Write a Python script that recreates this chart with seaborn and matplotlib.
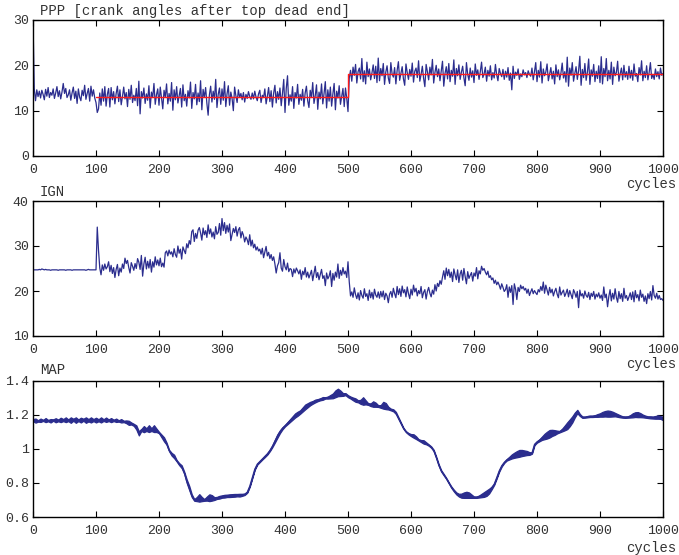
import numpy as np
import matplotlib
matplotlib.use("Agg")
import matplotlib.pyplot as plt
import seaborn as sns

# ---------------- data ----------------
TITLES = ["PPP [crank angles after top dead end]", "IGN", "MAP"]
X_LABEL = "cycles"
X_TICKS = [0, 100, 200, 300, 400, 500, 600, 700, 800, 900, 1000]
PPP_TICKS = [0, 10, 20, 30]
IGN_TICKS = [10, 20, 30, 40]
MAP_TICKS = [0.6, 0.8, 1.0, 1.2, 1.4]
MAP_TICK_LABELS = ["0.6", "0.8", "1", "1.2", "1.4"]

PPP_STEP = 2   # one value every 2 cycles
PPP = [
    30.0, 14.8, 12.2, 14.6, 13.1,  14.3, 12.8, 14.5, 13.6, 12.4,
    14.7, 13.2, 15.1, 12.9, 14.0,  13.4, 14.8, 12.7, 13.9, 15.3,
    13.1, 14.4, 12.6, 14.1, 16.0,  13.8, 14.9, 12.9, 13.5, 14.6,
    12.3, 13.9, 15.2, 12.7, 14.3,  11.6, 14.8, 13.0, 12.2, 14.5,
    13.3, 15.6, 12.5, 13.8, 14.9,  12.1, 15.4, 13.2, 14.6, 12.8,
    11.8, 9.6, 10.4, 13.9, 11.2,   14.8, 12.1, 15.3, 11.0, 13.6,
    14.9, 10.8, 15.1, 12.4, 14.2,  11.5, 13.8, 15.4, 12.0, 14.6,
    11.3, 13.1, 15.2, 12.6, 14.0,  10.9, 14.7, 12.5, 15.6, 11.8,
    13.4, 12.2, 14.9, 11.1, 16.5,  9.3, 14.2, 12.8, 15.0, 11.6,
    13.7, 12.3, 15.5, 10.6, 14.1,  12.9, 16.0, 11.4, 13.5, 14.8,
    11.2, 15.2, 12.7, 10.4, 14.5,  13.0, 15.9, 11.5, 13.8, 12.1,
    16.2, 10.1, 14.6, 12.4, 15.3,  11.7, 13.3, 14.9, 10.8, 15.7,
    12.2, 13.6, 11.0, 14.4, 12.8,  16.3, 10.5, 14.0, 12.6, 15.8,
    11.3, 13.9, 12.0, 16.6, 10.2,  14.7, 12.9, 15.1, 11.6, 9.0,
    13.5, 15.4, 11.9, 14.3, 12.5,  16.9, 10.7, 13.6, 15.0, 11.4,
    14.8, 12.3, 16.4, 10.9, 13.7,  15.5, 11.2, 14.1, 12.7, 10.0,
    15.2, 13.3, 11.8, 14.6, 12.9,  13.8, 12.4, 14.0, 11.9, 13.6,
    12.7, 14.2, 13.1, 12.5, 13.9,  12.6, 14.3, 13.0, 12.2, 13.7,
    14.5, 11.8, 13.4, 12.9, 14.8,  11.5, 13.2, 15.1, 12.0, 14.4,
    10.8, 13.9, 15.6, 11.7, 14.2,  12.5, 15.0, 11.1, 13.8, 16.9,
    9.6, 14.9, 17.7, 11.2, 13.5,   12.1, 15.3, 10.5, 14.0, 12.8,
    15.8, 11.4, 13.6, 12.3, 14.7,  11.0, 13.9, 15.4, 12.2, 10.7,
    14.5, 12.9, 16.2, 11.6, 13.3,  15.7, 10.3, 14.1, 12.6, 15.9,
    11.5, 13.8, 16.4, 10.6, 14.6,  12.1, 15.2, 11.0, 13.7, 16.0,
    10.2, 14.3, 12.8, 15.5, 11.4,  13.2, 14.9, 10.9, 15.0, 12.7,
    9.8, 17.2, 18.9, 16.5, 19.6,   17.8, 20.2, 16.1, 18.6, 19.4,
    17.0, 21.5, 16.4, 18.8, 15.9,  20.7, 17.5, 19.2, 16.8, 18.3,
    20.1, 17.1, 19.8, 16.2, 21.6,  16.6, 19.3, 17.7, 20.4, 15.8,
    18.5, 19.9, 17.2, 16.0, 20.6,  18.1, 17.4, 19.5, 15.9, 18.9,
    20.8, 16.7, 18.2, 19.7, 17.0,  15.6, 20.3, 18.4, 16.9, 19.1,
    17.6, 20.5, 16.3, 18.7, 19.4,  17.3, 21.0, 16.5, 18.0, 19.8,
    17.1, 15.3, 20.2, 18.6, 16.8,  19.6, 17.9, 21.3, 16.1, 18.4,
    20.0, 17.5, 19.2, 16.6, 18.8,  20.9, 15.4, 18.2, 19.7, 17.0,
    20.4, 16.4, 18.9, 17.6, 21.2,  15.8, 19.3, 17.7, 20.1, 16.9,
    18.5, 19.8, 17.2, 15.5, 20.6,  18.0, 16.7, 19.4, 17.4, 18.8,
    16.2, 20.3, 17.8, 19.0, 16.9,  18.6, 20.7, 17.3, 18.1, 19.6,
    16.5, 18.9, 17.6, 19.9, 16.8,  18.4, 17.2, 20.2, 17.9, 16.6,
    19.3, 18.2, 17.5, 19.1, 16.9,  18.7, 17.4, 19.5, 16.7, 18.3,
    14.6, 19.8, 17.1, 18.5, 17.8,  19.2, 16.9, 18.1, 17.5, 19.0,
    17.9, 18.4, 17.3, 18.8, 18.0,  17.6, 19.4, 16.8, 18.6, 20.6,
    16.4, 18.9, 17.4, 20.8, 16.1,  19.2, 17.7, 18.5, 20.3, 16.6,
    18.0, 19.5, 17.0, 18.7, 15.9,  20.1, 17.5, 19.0, 16.8, 18.3,
    20.5, 17.2, 18.6, 16.3, 21.8,  15.4, 19.4, 17.8, 20.6, 16.5,
    18.2, 19.7, 16.9, 18.8, 22.0,  15.6, 19.1, 17.3, 20.4, 16.7,
    18.5, 21.4, 15.8, 19.0, 17.6,  20.2, 16.4, 18.7, 17.1, 19.9,
    16.2, 21.9, 15.9, 19.3, 17.5,  21.5, 16.6, 18.9, 17.0, 20.7,
    15.8, 19.6, 17.7, 18.4, 20.9,  16.5, 18.1, 19.4, 16.8, 20.0,
    17.4, 18.6, 16.9, 19.8, 17.2,  18.9, 16.7, 20.3, 17.6, 18.2,
    16.4, 19.5, 17.9, 21.0, 16.6,  18.7, 17.3, 19.9, 16.8, 18.4,
    20.6, 17.1, 18.0, 16.9, 19.2,  17.5, 18.6, 17.0, 19.4, 17.8,
    18.2,
]

PPP_REF_CYCLES = [100, 500, 1000]
PPP_REF = [13.0, 18.0, 18.0]

IGN_STEP = 2
IGN = [
    24.7, 24.7, 24.7, 24.7, 24.7,  24.8, 24.7, 24.9, 24.8, 24.7,
    24.8, 24.7, 24.7, 24.7, 24.6,  24.7, 24.7, 24.7, 24.7, 24.7,
    24.6, 24.7, 24.7, 24.7, 24.7,  24.7, 24.6, 24.7, 24.7, 24.7,
    24.7, 24.6, 24.7, 24.7, 24.7,  24.7, 24.7, 24.7, 24.7, 24.7,
    24.7, 24.7, 24.6, 24.7, 24.8,  24.7, 24.7, 24.7, 24.7, 24.7,
    24.7, 34.2, 29.0, 25.1, 23.6,  25.8, 24.6, 26.0, 24.9, 25.4,
    26.5, 24.3, 25.7, 23.9, 25.2,  23.0, 24.8, 25.9, 23.4, 25.1,
    24.2, 26.0, 25.0, 27.3, 26.1,  26.8, 25.2, 24.0, 26.3, 25.5,
    24.6, 26.1, 25.0, 27.2, 26.4,  24.8, 27.9, 23.3, 26.0, 27.5,
    24.9, 26.6, 25.1, 27.0, 24.2,  26.5, 25.3, 27.6, 25.8, 26.9,
    25.6, 27.3, 25.4, 26.2, 25.3,  28.5, 28.9, 27.8, 29.1, 28.2,
    28.7, 27.6, 29.4, 28.1, 27.5,  30.0, 28.4, 29.3, 27.1, 29.8,
    29.0, 28.3, 30.5, 29.6, 31.2,  30.4, 33.2, 33.6, 31.0, 32.8,
    31.7, 33.5, 34.1, 32.9, 31.3,  34.0, 32.5, 33.4, 31.9, 34.7,
    32.7, 33.8, 32.0, 33.1, 31.6,  34.3, 32.6, 33.0, 35.0, 32.4,
    36.1, 33.4, 35.2, 32.8, 34.6,  33.1, 34.9, 31.2, 32.6, 33.9,
    33.0, 34.3, 32.2, 33.6, 34.1,  31.8, 33.2, 32.4, 30.9, 32.0,
    31.4, 30.3, 32.5, 30.0, 31.3,  29.6, 30.4, 29.1, 29.8, 28.9,
    29.3, 28.2, 29.5, 27.4, 28.7,  29.9, 27.8, 28.6, 27.2, 28.1,
    26.8, 27.6, 26.0, 24.0, 25.6,  26.3, 28.5, 25.1, 24.4, 27.0,
    25.4, 24.7, 26.2, 24.3, 25.0,  24.8, 23.2, 24.9, 24.0, 25.1,
    24.5, 23.8, 24.7, 22.6, 24.4,  23.6, 25.2, 23.1, 24.2, 22.9,
    23.7, 24.6, 22.3, 23.9, 25.5,  23.0, 24.1, 22.5, 23.6, 24.8,
    22.8, 23.4, 21.2, 24.0, 22.7,  23.3, 24.5, 21.0, 23.9, 22.4,
    24.2, 23.1, 26.0, 22.8, 24.6,  23.5, 25.2, 23.8, 24.4, 23.0,
    26.5, 22.0, 18.9, 19.8, 18.6,  20.7, 19.2, 18.3, 19.6, 18.0,
    20.1, 19.0, 18.4, 20.5, 18.8,  19.4, 17.9, 20.2, 18.5, 19.7,
    18.2, 20.4, 19.1, 18.6, 19.8,  18.4, 19.9, 18.7, 20.0, 18.1,
    19.5, 18.9, 17.4, 19.3, 19.9,  18.6, 20.6, 19.4, 18.5, 21.0,
    19.2, 20.5, 18.8, 21.1, 19.6,  20.3, 18.7, 20.9, 19.4, 18.3,
    20.4, 19.1, 21.3, 19.8, 20.6,  18.9, 20.1, 19.4, 21.0, 18.5,
    19.7, 20.3, 18.2, 19.9, 20.8,  19.5, 18.7, 20.2, 19.3, 21.4,
    20.0, 21.7, 21.0, 22.3, 21.5,  23.1, 24.5, 22.6, 25.1, 23.4,
    24.8, 23.0, 24.2, 22.1, 24.9,  23.6, 22.5, 24.7, 21.9, 23.8,
    24.6, 22.4, 25.0, 23.2, 21.6,  24.3, 22.8, 23.5, 24.1, 22.2,
    24.0, 23.3, 25.2, 22.7, 24.5,  23.8, 25.5, 24.6, 25.0, 24.2,
    23.6, 24.4, 23.0, 23.4, 22.5,  22.9, 21.7, 22.4, 21.4, 22.0,
    21.3, 20.4, 21.6, 20.8, 19.9,  20.3, 21.4, 18.6, 20.9, 19.7,
    21.2, 17.0, 21.6, 20.4, 18.1,  20.8, 19.9, 21.3, 20.5, 21.0,
    20.2, 20.6, 19.5, 20.4, 19.0,  19.8, 20.5, 19.4, 20.1, 19.6,
    19.2, 20.3, 19.8, 21.0, 20.1,  22.0, 19.5, 21.3, 20.2, 19.1,
    20.8, 19.6, 20.4, 18.9, 19.9,  20.6, 19.3, 18.5, 20.9, 19.1,
    19.7, 20.2, 18.8, 19.5, 20.4,  18.7, 20.1, 19.2, 18.3, 20.3,
    19.6, 18.6, 19.9, 16.3, 20.2,  18.9, 19.4, 18.4, 20.0, 19.0,
    18.6, 19.7, 18.1, 19.5, 18.8,  19.9, 18.2, 19.3, 18.7, 19.6,
    18.4, 19.1, 17.9, 20.9, 18.5,  19.3, 16.5, 18.8, 20.3, 17.8,
    19.5, 18.2, 20.5, 18.6, 17.5,  19.9, 18.3, 19.4, 17.7, 20.6,
    18.4, 19.0, 17.9, 18.7, 19.6,  18.1, 19.8, 17.6, 20.1, 18.5,
    19.2, 17.8, 20.2, 18.6, 19.3,  17.7, 18.9, 17.2, 19.4, 18.3,
    19.9, 18.0, 21.2, 19.0, 18.4,  19.5, 18.2, 19.0, 18.1, 18.3,
    17.9,
]

MAP_STEP = 4   # one value every 4 cycles: band centre and half-width
MAP_MID = [
    1.168, 1.165, 1.163, 1.167, 1.166, 1.168, 1.165, 1.164, 1.168, 1.167,
    1.166, 1.169, 1.168, 1.170, 1.167, 1.168, 1.170, 1.168, 1.167, 1.168,
    1.170, 1.168, 1.167, 1.169, 1.168,
    1.168, 1.167, 1.169, 1.168, 1.170, 1.167, 1.168, 1.166, 1.167, 1.163,
    1.164, 1.160, 1.158, 1.152, 1.148, 1.140, 1.125, 1.090, 1.110, 1.115,
    1.112, 1.118, 1.112, 1.118, 1.108,
    1.095, 1.075, 1.055, 1.030, 0.990, 0.968, 0.955, 0.930, 0.910, 0.895,
    0.860, 0.810, 0.770, 0.725, 0.700, 0.705, 0.712, 0.705, 0.700, 0.708,
    0.713, 0.712, 0.708, 0.712, 0.716,
    0.720, 0.722, 0.724, 0.725, 0.726, 0.727, 0.728, 0.728, 0.730, 0.733,
    0.745, 0.780, 0.830, 0.880, 0.910, 0.925, 0.940, 0.955, 0.970, 0.990,
    1.015, 1.045, 1.075, 1.100, 1.120,
    1.135, 1.150, 1.165, 1.180, 1.195, 1.205, 1.215, 1.230, 1.245, 1.255,
    1.265, 1.272, 1.280, 1.285, 1.290, 1.295, 1.298, 1.300, 1.305, 1.310,
    1.322, 1.330, 1.325, 1.318, 1.320,
    1.308, 1.300, 1.292, 1.285, 1.278, 1.275, 1.280, 1.272, 1.262, 1.258,
    1.262, 1.258, 1.250, 1.248, 1.255, 1.250, 1.238, 1.230, 1.225, 1.210,
    1.180, 1.150, 1.120, 1.100, 1.088,
    1.080, 1.075, 1.065, 1.052, 1.045, 1.040, 1.032, 1.022, 1.010, 0.990,
    0.950, 0.905, 0.870, 0.848, 0.826, 0.800, 0.775, 0.755, 0.738, 0.728,
    0.725, 0.728, 0.730, 0.728, 0.722,
    0.716, 0.716, 0.720, 0.726, 0.732, 0.740, 0.752, 0.770, 0.792, 0.830,
    0.870, 0.900, 0.920, 0.935, 0.945, 0.955, 0.962, 0.968, 0.973, 0.975,
    0.975, 0.975, 0.972, 0.975, 1.025,
    1.040, 1.050, 1.062, 1.072, 1.080, 1.088, 1.093, 1.095, 1.098, 1.100,
    1.110, 1.122, 1.135, 1.152, 1.172, 1.198, 1.218, 1.198, 1.185, 1.185,
    1.188, 1.190, 1.190, 1.192, 1.195,
    1.198, 1.202, 1.205, 1.206, 1.205, 1.203, 1.200, 1.195, 1.190, 1.186,
    1.185, 1.186, 1.190, 1.196, 1.200, 1.200, 1.197, 1.192, 1.188, 1.185,
    1.184, 1.183, 1.184, 1.186, 1.183,
    1.178,
]
MAP_HALF = [
    0.006, 0.012, 0.004, 0.010, 0.003, 0.012, 0.004, 0.010, 0.004, 0.012,
    0.005, 0.013, 0.006, 0.014, 0.005, 0.016, 0.006, 0.016, 0.005, 0.014,
    0.006, 0.016, 0.007, 0.015, 0.006,
    0.014, 0.006, 0.015, 0.005, 0.013, 0.005, 0.012, 0.004, 0.010, 0.004,
    0.010, 0.004, 0.008, 0.012, 0.006, 0.006, 0.012, 0.012, 0.006, 0.018,
    0.008, 0.020, 0.008, 0.020, 0.010,
    0.004, 0.008, 0.012, 0.006, 0.004, 0.008, 0.010, 0.004, 0.006, 0.008,
    0.006, 0.010, 0.012, 0.008, 0.005, 0.012, 0.022, 0.012, 0.005, 0.012,
    0.020, 0.016, 0.008, 0.006, 0.008,
    0.007, 0.008, 0.007, 0.008, 0.008, 0.008, 0.007, 0.008, 0.006, 0.004,
    0.003, 0.003, 0.003, 0.003, 0.003, 0.003, 0.003, 0.004, 0.004, 0.004,
    0.005, 0.008, 0.010, 0.008, 0.006,
    0.004, 0.006, 0.008, 0.010, 0.012, 0.012, 0.010, 0.012, 0.014, 0.012,
    0.010, 0.008, 0.008, 0.006, 0.006, 0.008, 0.004, 0.006, 0.010, 0.014,
    0.020, 0.022, 0.016, 0.008, 0.006,
    0.006, 0.006, 0.008, 0.010, 0.006, 0.012, 0.022, 0.012, 0.005, 0.008,
    0.016, 0.012, 0.005, 0.008, 0.020, 0.018, 0.008, 0.005, 0.006, 0.006,
    0.005, 0.004, 0.003, 0.003, 0.004,
    0.006, 0.010, 0.008, 0.004, 0.006, 0.010, 0.006, 0.004, 0.004, 0.004,
    0.004, 0.004, 0.004, 0.004, 0.003, 0.003, 0.004, 0.005, 0.006, 0.008,
    0.012, 0.016, 0.018, 0.016, 0.010,
    0.004, 0.004, 0.006, 0.010, 0.014, 0.016, 0.014, 0.008, 0.004, 0.004,
    0.004, 0.004, 0.003, 0.004, 0.008, 0.012, 0.015, 0.018, 0.020, 0.018,
    0.015, 0.012, 0.008, 0.004, 0.004,
    0.004, 0.006, 0.010, 0.016, 0.020, 0.022, 0.018, 0.014, 0.008, 0.004,
    0.008, 0.014, 0.020, 0.020, 0.018, 0.014, 0.010, 0.006, 0.004, 0.003,
    0.004, 0.004, 0.004, 0.005, 0.008,
    0.010, 0.014, 0.016, 0.018, 0.017, 0.014, 0.010, 0.008, 0.006, 0.004,
    0.004, 0.004, 0.007, 0.012, 0.014, 0.015, 0.012, 0.008, 0.006, 0.005,
    0.006, 0.006, 0.008, 0.010, 0.008,
    0.010,
]

# ---------------- style ----------------
BLUE = "#2b2d8e"
RED = "#ff1a1a"
TEXT = "#333333"

sns.set_theme(style="white")
plt.rcParams["font.family"] = ["Liberation Mono", "DejaVu Sans Mono"]
plt.rcParams.update({
    "font.size": 10,
    "xtick.direction": "in",
    "ytick.direction": "in",
    "xtick.top": True,
    "ytick.right": True,
    "xtick.bottom": True,
    "ytick.left": True,
    "axes.edgecolor": "black",
    "axes.linewidth": 1.0,
})

fig = plt.figure(figsize=(6.79, 5.55), dpi=100)
W, H = 679.0, 555.0
L, R = 33.0, 663.0
boxes = [(20.0, 156.0), (201.0, 336.0), (380.5, 517.0)]
axes = []
for top, bot in boxes:
    ax = fig.add_axes([L / W, (H - bot) / H, (R - L) / W, (bot - top) / H])
    axes.append(ax)

ppp_x = np.arange(len(PPP)) * PPP_STEP
ign_x = np.arange(len(IGN)) * IGN_STEP
map_x = np.arange(len(MAP_MID)) * MAP_STEP
map_mid = np.array(MAP_MID)
map_half = np.array(MAP_HALF)

# PPP
ax = axes[0]
sns.lineplot(x=ppp_x, y=PPP, ax=ax, color=BLUE, linewidth=0.9,
             estimator=None, errorbar=None)
sns.lineplot(x=PPP_REF_CYCLES, y=PPP_REF, ax=ax, color=RED, linewidth=1.0,
             estimator=None, errorbar=None, drawstyle="steps-post", zorder=5)
ax.set_ylim(0, 30)
ax.set_yticks(PPP_TICKS)

# IGN
ax = axes[1]
sns.lineplot(x=ign_x, y=IGN, ax=ax, color=BLUE, linewidth=0.9,
             estimator=None, errorbar=None)
ax.set_ylim(10, 40)
ax.set_yticks(IGN_TICKS)

# MAP
ax = axes[2]
ax.fill_between(map_x, map_mid - map_half, map_mid + map_half,
                color=BLUE, linewidth=0.9)
sns.lineplot(x=map_x, y=MAP_MID, ax=ax, color=BLUE, linewidth=0.9,
             estimator=None, errorbar=None)
ax.set_ylim(0.6, 1.4)
ax.set_yticks(MAP_TICKS)
ax.set_yticklabels(MAP_TICK_LABELS)

title_offsets = [9, 9, 10]
label_offsets = [-28, -28, -31]
for ax, title, dy, ly in zip(axes, TITLES, title_offsets, label_offsets):
    ax.set_xlim(0, 1000)
    ax.set_xticks(X_TICKS)
    ax.set_xlabel("")
    ax.set_ylabel("")
    ax.tick_params(axis="both", which="both", length=4, width=0.8,
                   color="black", labelcolor=TEXT, labelsize=9.5)
    ax.tick_params(axis="x", pad=6)
    ax.tick_params(axis="y", pad=3)
    for s in ax.spines.values():
        s.set_visible(True)
        s.set_color("black")
        s.set_linewidth(1.0)
    ax.grid(False)
    ax.annotate(title, xy=(0, 1), xycoords="axes fraction",
                xytext=(7, dy), textcoords="offset pixels",
                ha="left", va="center", color=TEXT, fontsize=10)
    ax.annotate(X_LABEL, xy=(1, 0), xycoords="axes fraction",
                xytext=(13, ly), textcoords="offset pixels",
                ha="right", va="center", color=TEXT, fontsize=10,
                annotation_clip=False)

fig.savefig("out.png", dpi=100)
